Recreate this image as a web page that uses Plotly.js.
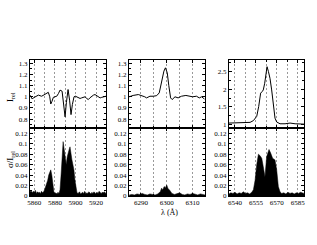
<!DOCTYPE html>
<html><head><meta charset="utf-8">
<script src="https://cdn.plot.ly/plotly-3.0.1.min.js"></script>
<style>html,body{margin:0;padding:0;background:#fff}#c{width:317px;height:245px}</style>
</head><body><div id="c"></div>
<script>
// Panel 1: Na D region
const naWave = [5855.8,5857,5858,5859,5860.7,5862,5864,5865.5,5867,5868.5,5870.4,5872,5873.6,5875,5876,5877.2,5878.5,5880,5881.8,5883.5,5885,5887,5888.5,5889.9,5891.2,5892.8,5894.3,5895.7,5897,5898.6,5900,5901.5,5902.8,5904.5,5906,5907.5,5909.3,5911,5912.5,5914,5915.8,5917.5,5919,5920.5,5922,5924,5925.6,5927.5,5929.7];
const naFlux = [1.015,1.0,0.98,0.99,1.0,1.01,1.015,1.01,1.005,1.012,1.02,1.03,1.04,1.0,0.935,0.96,0.995,1.0,1.005,1.03,1.06,1.05,0.93,0.82,0.95,1.065,0.97,0.84,0.93,1.0,1.005,1.0,0.995,0.985,0.99,0.995,1.0,0.985,0.975,0.99,1.005,1.015,1.02,1.01,1.005,0.99,0.995,1.0,1.005];
const naSigWave = [5855.8,5857,5858,5859,5860,5861,5862,5863,5864,5865,5866,5867,5868,5869,5870,5871,5872,5873,5874,5875,5876,5877,5878,5879,5880,5881,5882,5883,5884,5885,5886,5887,5888,5889,5890,5890.5,5891,5892,5893,5894,5894.7,5895.5,5896.5,5897.5,5898.5,5899.5,5900.6,5901.5,5902.5,5904,5905,5906,5907,5908,5909,5910,5911,5912,5913,5914,5915,5916,5917,5918,5919,5920,5921,5922,5923,5924,5925,5926,5927,5928,5929.7];
const naSig = [0.008,0.01,0.006,0.009,0.007,0.011,0.005,0.008,0.006,0.007,0.005,0.009,0.006,0.008,0.012,0.018,0.022,0.03,0.04,0.048,0.05,0.04,0.02,0.008,0.005,0.006,0.004,0.007,0.005,0.012,0.04,0.075,0.104,0.09,0.072,0.066,0.06,0.075,0.085,0.09,0.094,0.08,0.07,0.06,0.05,0.03,0.01,0.006,0.005,0.008,0.004,0.006,0.007,0.005,0.009,0.004,0.006,0.005,0.008,0.006,0.004,0.007,0.005,0.008,0.006,0.004,0.007,0.005,0.009,0.006,0.005,0.007,0.006,0.008,0.005];

// Panel 2: [O I] 6300
const oWave = [6285.5,6287,6289,6290.3,6291.5,6292.2,6293.5,6294.8,6296.1,6297.1,6298,6298.9,6299.5,6300.2,6300.8,6301.5,6302.1,6303.2,6304.4,6305.7,6307.4,6308.7,6310,6311.5,6312.6,6313.5,6314.6];
const oFlux = [1.0,1.012,1.02,1.012,1.0,0.99,1.005,1.005,1.01,1.035,1.125,1.23,1.26,1.215,1.1,0.99,0.975,1.0,0.99,1.005,1.012,1.005,1.0,1.005,0.99,1.0,0.98];
const oSigWave = [6285.5,6286.5,6287.5,6288.5,6289.5,6290.5,6291.5,6292.5,6293.5,6294.5,6295.5,6296.5,6297,6297.5,6298,6298.5,6299,6299.5,6300,6300.5,6301,6301.5,6302,6303,6304,6305,6306,6307,6308,6309,6310,6311,6312,6313,6314,6314.8];
const oSig = [0.002,0.003,0.002,0.004,0.003,0.005,0.003,0.002,0.004,0.003,0.002,0.004,0.006,0.008,0.015,0.012,0.018,0.016,0.021,0.014,0.012,0.008,0.005,0.003,0.004,0.006,0.003,0.002,0.004,0.003,0.005,0.003,0.002,0.004,0.003,0.002];

// Panel 3: H alpha
const haWave = [6535.7,6538.8,6542.4,6546,6548.4,6550.8,6553.2,6555.6,6557,6558.4,6559.4,6560.3,6561.3,6562.3,6563,6564,6565.1,6566.3,6567.5,6568.7,6569.9,6572.3,6575.9,6579.5,6583.1,6586.7,6589.5];
const haFlux = [1.04,1.04,1.05,1.04,1.05,1.06,1.11,1.23,1.51,1.89,1.93,1.98,2.17,2.45,2.64,2.5,2.31,1.98,1.51,1.18,1.07,1.02,1.02,1.04,1.02,1.01,1.01];
const haSigWave = [6535.7,6537,6538.5,6540,6541.5,6543,6544.5,6546,6547.5,6549,6550.5,6552,6553.2,6554.4,6555.6,6556.8,6558,6559.2,6560.3,6561.5,6562.7,6564.4,6565.6,6567,6568.7,6569.9,6571.1,6572.3,6573.5,6575,6576.5,6578,6579.5,6581,6582.5,6584,6585.5,6587,6589.5];
const haSig = [0.004,0.006,0.005,0.007,0.004,0.006,0.005,0.008,0.005,0.006,0.004,0.007,0.012,0.03,0.06,0.08,0.077,0.072,0.056,0.037,0.075,0.089,0.082,0.072,0.069,0.05,0.018,0.008,0.005,0.006,0.004,0.007,0.005,0.006,0.004,0.006,0.005,0.007,0.005];

const font = {family: 'Liberation Serif, Times New Roman, serif', size: 7, color: '#000'};
const xd = [[30/317, 106/317], [129/317, 205/317], [229/317, 304/317]];
const yUp = [1 - 128/245, 1 - 60/245];
const yLo = [1 - 196/245, 1 - 128/245];

function xax(dom, range, major, minor, t0, labels, anchor) {
  return {domain: dom, range: range, anchor: anchor, showline: true, linecolor: '#000', linewidth: 1, mirror: 'ticks',
    ticks: 'inside', ticklen: 3, tickcolor: '#000', tick0: t0, dtick: major, showticklabels: labels,
    showgrid: true, gridcolor: '#999', griddash: '2px,2px', gridwidth: 1, zeroline: false, tickfont: font,
    minor: {dtick: minor, tick0: t0, ticks: 'inside', ticklen: 2, showgrid: true, gridcolor: '#999', griddash: '2px,2px'}};
}
function yax(dom, range, major, minor, anchor) {
  return {domain: dom, range: range, anchor: anchor, showline: true, linecolor: '#000', linewidth: 1, mirror: 'ticks',
    ticks: 'inside', ticklen: 3, tickcolor: '#000', dtick: major, showgrid: false, zeroline: false, tickfont: font,
    minor: {dtick: minor, ticks: 'inside', ticklen: 2}};
}

const lineStyle = {color: '#000', width: 1};
const data = [
  {x: naWave, y: naFlux, xaxis: 'x', yaxis: 'y', mode: 'lines', line: lineStyle},
  {x: naSigWave, y: naSig, xaxis: 'x2', yaxis: 'y2', mode: 'lines', fill: 'tozeroy', fillcolor: '#000', line: {color: '#000', width: 0.5}},
  {x: oWave, y: oFlux, xaxis: 'x3', yaxis: 'y3', mode: 'lines', line: lineStyle},
  {x: oSigWave, y: oSig, xaxis: 'x4', yaxis: 'y4', mode: 'lines', fill: 'tozeroy', fillcolor: '#000', line: {color: '#000', width: 0.5}},
  {x: haWave, y: haFlux, xaxis: 'x5', yaxis: 'y5', mode: 'lines', line: lineStyle},
  {x: haSigWave, y: haSig, xaxis: 'x6', yaxis: 'y6', mode: 'lines', fill: 'tozeroy', fillcolor: '#000', line: {color: '#000', width: 0.5}}
];

const layout = {
  width: 317, height: 245, margin: {l: 0, r: 0, t: 0, b: 0}, showlegend: false,
  paper_bgcolor: '#fff', plot_bgcolor: '#fff', font: font,
  xaxis: xax(xd[0], [5855.8, 5929.7], 20, 10, 5860, false, 'y'),
  xaxis2: xax(xd[0], [5855.8, 5929.7], 20, 10, 5860, true, 'y2'),
  xaxis3: xax(xd[1], [6285.4, 6314.8], 10, 5, 6290, false, 'y3'),
  xaxis4: xax(xd[1], [6285.4, 6314.8], 10, 5, 6290, true, 'y4'),
  xaxis5: xax(xd[2], [6535.7, 6589.5], 15, 7.5, 6540, false, 'y5'),
  xaxis6: xax(xd[2], [6535.7, 6589.5], 15, 7.5, 6540, true, 'y6'),
  yaxis: yax(yUp, [0.72, 1.33], 0.1, 0.05, 'x'),
  yaxis2: yax(yLo, [0, 0.13], 0.02, 0.01, 'x2'),
  yaxis3: yax(yUp, [0.72, 1.33], 0.1, 0.05, 'x3'),
  yaxis4: yax(yLo, [0, 0.13], 0.02, 0.01, 'x4'),
  yaxis5: yax(yUp, [0.9, 2.83], 0.5, 0.25, 'x5'),
  yaxis6: yax(yLo, [0, 0.13], 0.02, 0.01, 'x6'),
  annotations: [
    {text: 'I<sub>rel</sub>', xref: 'paper', yref: 'paper', x: 10/317, y: 1 - 97/245, textangle: -90, showarrow: false, font: {family: font.family, size: 9, color: '#000'}, xanchor: 'center', yanchor: 'middle'},
    {text: 'σ/I<sub>rel</sub>', xref: 'paper', yref: 'paper', x: 10/317, y: 1 - 160/245, textangle: -90, showarrow: false, font: {family: font.family, size: 9, color: '#000'}, xanchor: 'center', yanchor: 'middle'},
    {text: 'λ (Å)', xref: 'paper', yref: 'paper', x: 169/317, y: 1 - 206/245, showarrow: false, font: {family: font.family, size: 8, color: '#000'}, xanchor: 'center', yanchor: 'top'}
  ]
};
Plotly.newPlot('c', data, layout, {staticPlot: true, displayModeBar: false});
</script></body></html>
